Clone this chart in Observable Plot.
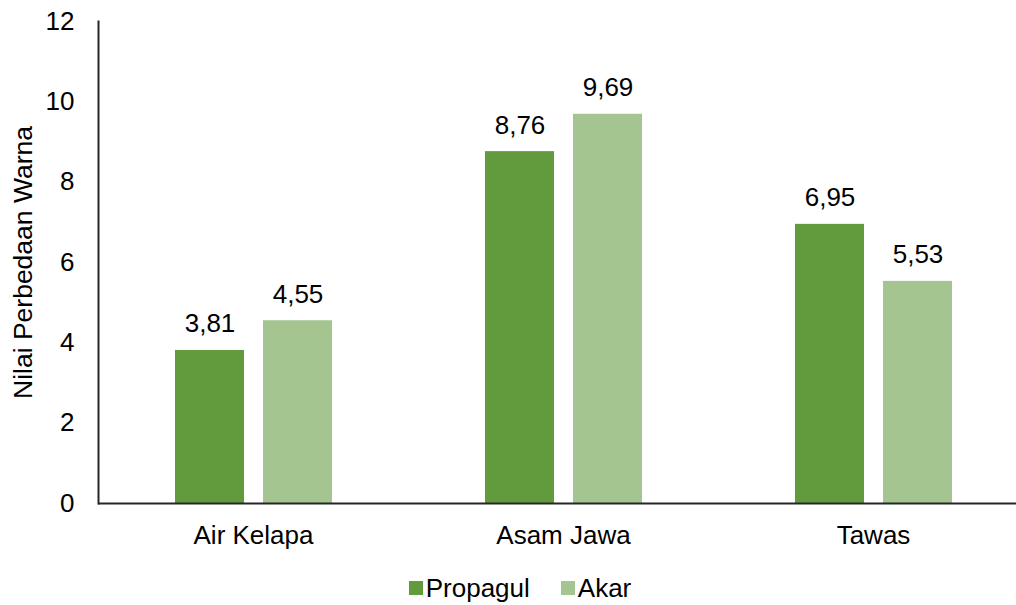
<!DOCTYPE html>
<html>
<head>
<meta charset="utf-8">
<script src="https://cdn.jsdelivr.net/npm/d3@7"></script>
<script src="https://cdn.jsdelivr.net/npm/@observablehq/plot@0.6"></script>
<style>
  html, body { margin: 0; padding: 0; background: #fff; }
  body { width: 1016px; height: 605px; overflow: hidden; font-family: "Liberation Sans", Arial, sans-serif; }
  #legend { display: flex; justify-content: center; align-items: center; gap: 31px; height: 34px; padding-top: 11px; padding-left: 24px; font-size: 26px; line-height: 30px; color: #000; }
  .item { display: flex; align-items: center; }
  .sw { width: 14px; height: 14px; margin-right: 3px; }
</style>
</head>
<body>
<div id="chart"></div>
<div id="legend"></div>
<script>
const categories = ["Air Kelapa", "Asam Jawa", "Tawas"];
const series = ["Propagul", "Akar"];
const propagul = [3.81, 8.76, 6.95];
const akar = [4.55, 9.69, 5.53];
const yTicks = [0, 2, 4, 6, 8, 10, 12];
const colors = ["#629A3E", "#A4C590"];
const yTitle = "Nilai Perbedaan Warna";

const propRows = categories.map((c, i) => ({cat: c, series: series[0], value: propagul[i]}));
const akarRows = categories.map((c, i) => ({cat: c, series: series[1], value: akar[i]}));
const fmt = v => v.toFixed(2).replace(".", ",");
const font = "Liberation Sans, Arial, sans-serif";

const chart = Plot.plot({
  width: 1016,
  height: 560,
  marginLeft: 98,
  marginRight: 0,
  marginTop: 21,
  marginBottom: 57,
  style: {fontFamily: font, fontSize: "26px", color: "#000", background: "#fff"},
  x: {type: "band", domain: categories, range: [98, 1028], padding: 0},
  y: {domain: [0, 12]},
  marks: [
    Plot.barY(propRows, {x: "cat", y: "value", fill: colors[0], insetLeft: 77, insetRight: 164}),
    Plot.barY(akarRows, {x: "cat", y: "value", fill: colors[1], insetLeft: 165, insetRight: 76}),
    Plot.text(propRows, {x: "cat", y: "value", text: d => fmt(d.value), dx: -43.5, dy: -18, lineAnchor: "bottom", fontSize: 26, fill: "#000"}),
    Plot.text(akarRows, {x: "cat", y: "value", text: d => fmt(d.value), dx: 44.5, dy: -18, lineAnchor: "bottom", fontSize: 26, fill: "#000"}),
    Plot.axisX({tickSize: 0, tickPadding: 22, fontSize: 26, label: null}),
    Plot.axisY({ticks: yTicks, tickSize: 0, tickPadding: 24, fontSize: 26, label: null, tickFormat: d => String(d)}),
    Plot.text([yTitle], {frameAnchor: "left", textAnchor: "middle", lineAnchor: "middle", text: d => d, rotate: -90, dx: -75, fontSize: 26.5, fill: "#000"}),
    Plot.ruleY([0], {stroke: "#262626", strokeWidth: 2}),
    Plot.frame({anchor: "left", stroke: "#262626", strokeWidth: 2})
  ]
});
document.getElementById("chart").appendChild(chart);

const legend = document.getElementById("legend");
series.forEach((s, i) => {
  const item = document.createElement("div");
  item.className = "item";
  const sw = document.createElement("div");
  sw.className = "sw";
  sw.style.background = colors[i];
  const label = document.createElement("span");
  label.textContent = s;
  item.appendChild(sw);
  item.appendChild(label);
  legend.appendChild(item);
});
</script>
</body>
</html>
